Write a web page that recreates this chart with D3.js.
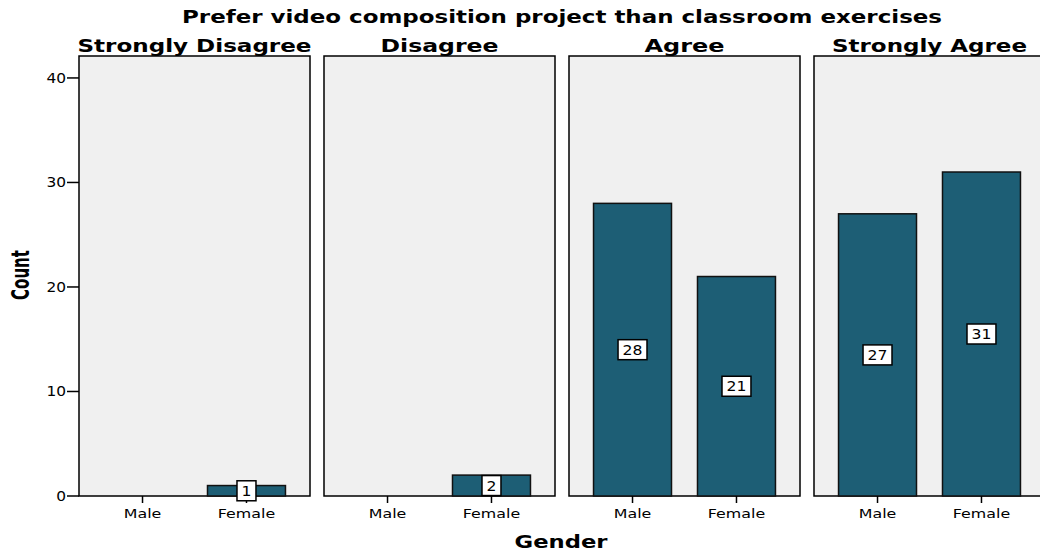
<!DOCTYPE html>
<html>
<head>
<meta charset="utf-8">
<script src="https://cdn.jsdelivr.net/npm/d3@7"></script>
<style>
  html, body { margin: 0; padding: 0; background: #ffffff; }
  svg { display: block; }
  text { font-family: "DejaVu Sans", Verdana, sans-serif; fill: #000; }
</style>
</head>
<body>
<svg id="chart" width="1040" height="553"></svg>
<script>
// ---- data ----
const categories = ["Strongly Disagree", "Disagree", "Agree", "Strongly Agree"];
const genders = ["Male", "Female"];
const maleCounts = [0, 0, 28, 27];
const femaleCounts = [1, 2, 21, 31];
const yTicks = [0, 10, 20, 30, 40];
const chartTitle = "Prefer video composition project than classroom exercises";
const xTitle = "Gender";
const yTitle = "Count";

const panelTitleWidths = [234, 118, 80, 195];

(function () {
const svg = d3.select("#chart");

const plotTop = 56, plotBottom = 496;
const y = d3.scaleLinear().domain([0, 42.1]).range([plotBottom, plotTop]);

const panelX = d3.scaleBand()
  .domain(categories)
  .range([79, 1045])
  .paddingInner(14 / 245)
  .paddingOuter(0);

const innerX = d3.scaleBand()
  .domain(genders)
  .range([0, panelX.bandwidth()])
  .paddingInner(0.25)
  .paddingOuter(0.236);

const barColor = "#1d5e75";
const panelBg = "#f0f0f0";

// main title
svg.append("text")
  .attr("x", 562).attr("y", 23)
  .attr("text-anchor", "middle")
  .attr("font-size", 18).attr("font-weight", "bold")
  .attr("textLength", 760).attr("lengthAdjust", "spacingAndGlyphs")
  .text(chartTitle);

// helper for stretched regular text
function stretched(g, x, yy, txt, size, sx, anchor) {
  return g.append("text")
    .attr("transform", `translate(${x},${yy}) scale(${sx},1)`)
    .attr("text-anchor", anchor)
    .attr("font-size", size)
    .text(txt);
}

categories.forEach((cat, i) => {
  const px = panelX(cat);
  const g = svg.append("g").attr("transform", `translate(${px},0)`);

  // panel background
  g.append("rect")
    .attr("x", 0).attr("y", plotTop)
    .attr("width", panelX.bandwidth()).attr("height", plotBottom - plotTop)
    .attr("fill", panelBg)
    .attr("stroke", "#000").attr("stroke-width", 1.5);

  // panel title
  g.append("text")
    .attr("x", panelX.bandwidth() / 2).attr("y", 52)
    .attr("text-anchor", "middle")
    .attr("font-size", 17).attr("font-weight", "bold")
    .attr("textLength", panelTitleWidths[i]).attr("lengthAdjust", "spacingAndGlyphs")
    .text(cat);

  const vals = [maleCounts[i], femaleCounts[i]];

  // bars
  genders.forEach((gen, j) => {
    const v = vals[j];
    if (v > 0) {
      g.append("rect")
        .attr("x", innerX(gen)).attr("y", y(v))
        .attr("width", innerX.bandwidth()).attr("height", y(0) - y(v))
        .attr("fill", barColor)
        .attr("stroke", "#111").attr("stroke-width", 1.5);
    }
  });

  // x ticks and labels
  genders.forEach((gen) => {
    const cx = innerX(gen) + innerX.bandwidth() / 2;
    g.append("line")
      .attr("x1", cx).attr("x2", cx)
      .attr("y1", plotBottom).attr("y2", plotBottom + 7)
      .attr("stroke", "#000").attr("stroke-width", 1.5);
    stretched(g, cx, 518, gen, 13, 1.22, "middle");
  });

  // value labels
  genders.forEach((gen, j) => {
    const v = vals[j];
    if (v > 0) {
      const cx = innerX(gen) + innerX.bandwidth() / 2;
      const cy = y(v / 2);
      const lg = g.append("g");
      const t = stretched(lg, cx, cy + 5, String(v), 14, 1.12, "middle");
      const tw = t.node().getComputedTextLength() * 1.12;
      lg.insert("rect", "text")
        .attr("x", cx - (tw + 9) / 2).attr("y", cy - 10)
        .attr("width", tw + 9).attr("height", 20)
        .attr("fill", "#fff")
        .attr("stroke", "#000").attr("stroke-width", 1.5);
    }
  });
});

// y axis ticks and labels
const p0 = panelX(categories[0]);
yTicks.forEach(t => {
  svg.append("line")
    .attr("x1", p0 - 12).attr("x2", p0)
    .attr("y1", y(t)).attr("y2", y(t))
    .attr("stroke", "#000").attr("stroke-width", 1.5);
  stretched(svg, p0 - 13, y(t) + 5, String(t), 14, 1.1, "end");
});

// axis titles
svg.append("text")
  .attr("x", 561).attr("y", 548)
  .attr("text-anchor", "middle")
  .attr("font-size", 17).attr("font-weight", "bold")
  .attr("textLength", 93).attr("lengthAdjust", "spacingAndGlyphs")
  .text(xTitle);

svg.append("text")
  .attr("transform", "translate(28.5,275) rotate(-90)")
  .attr("text-anchor", "middle")
  .attr("font-family", "'Liberation Sans Narrow', 'DejaVu Sans Condensed', 'DejaVu Sans', sans-serif")
  .attr("font-size", 24).attr("font-weight", "bold")
  .attr("textLength", 50).attr("lengthAdjust", "spacingAndGlyphs")
  .text(yTitle);
})();
</script>
</body>
</html>
